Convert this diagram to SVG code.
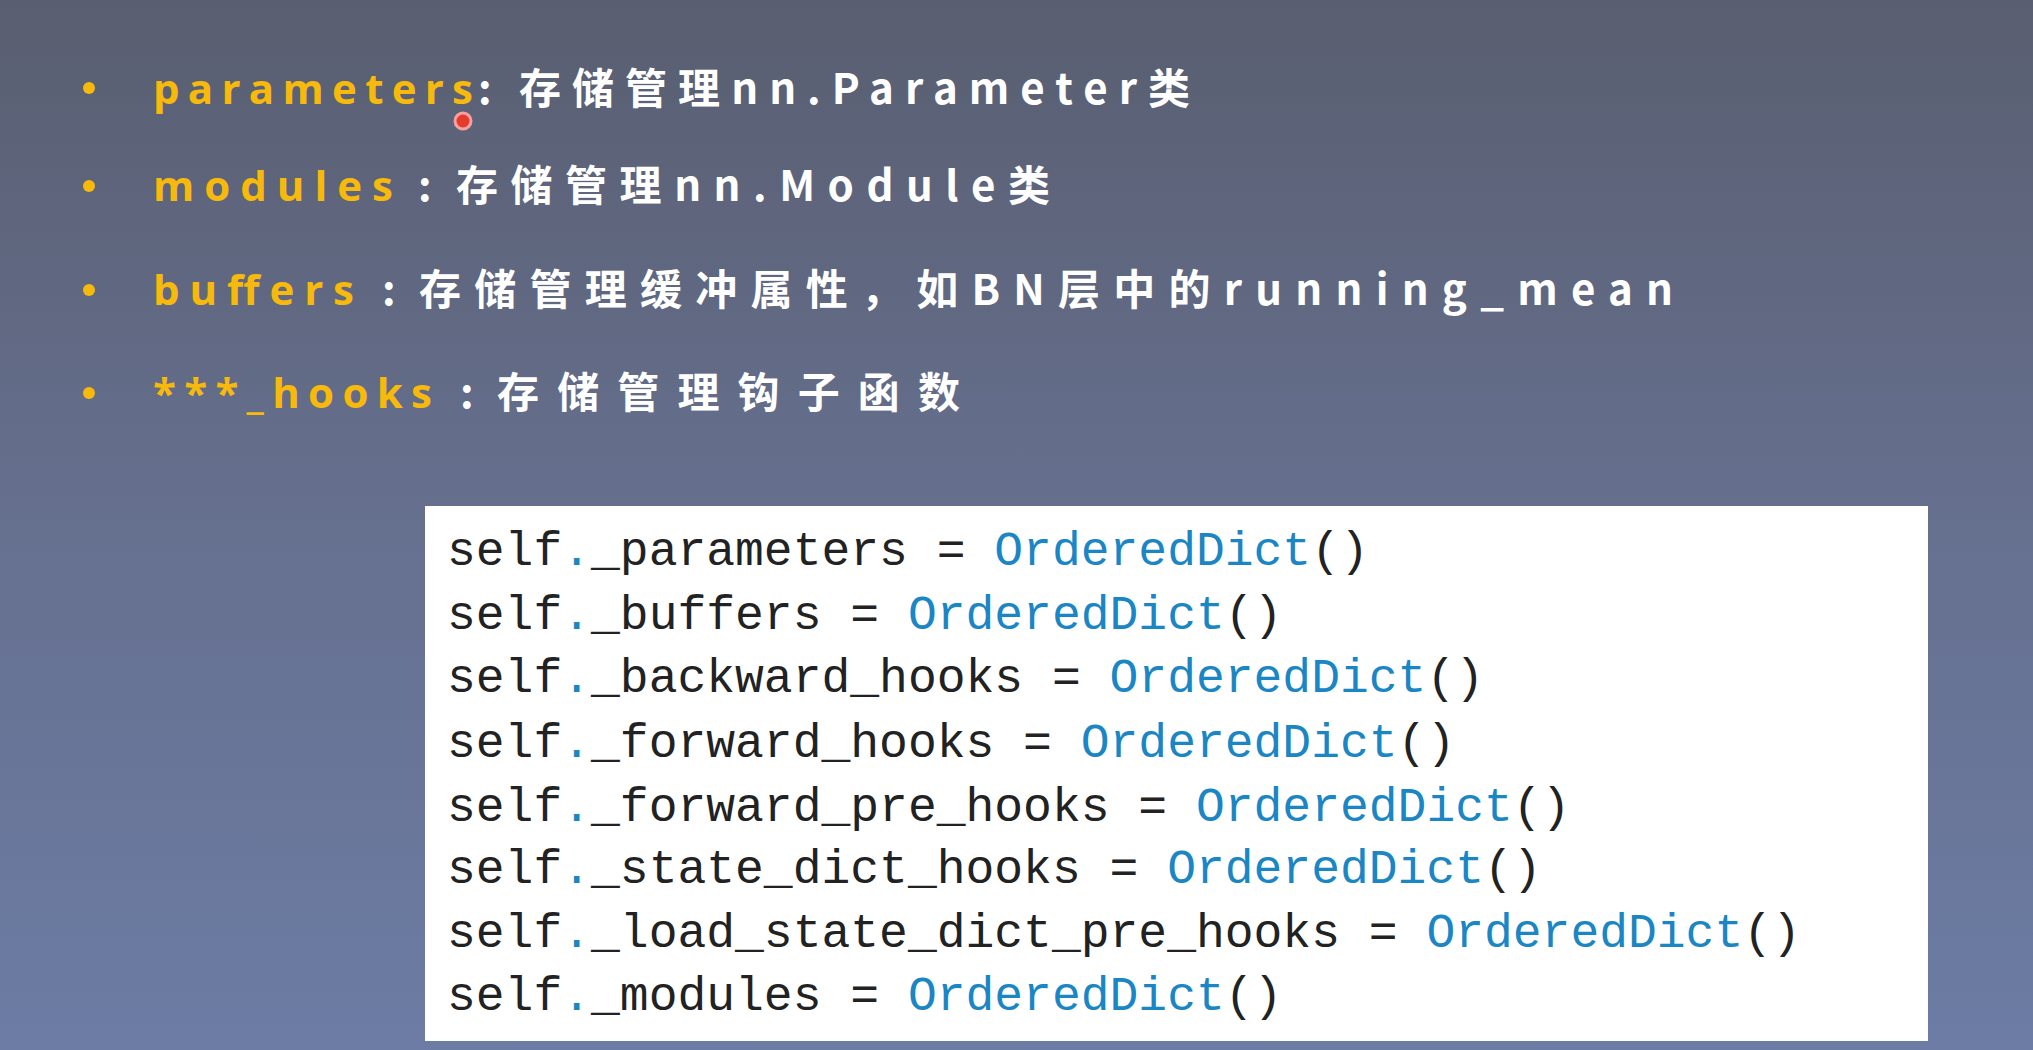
<svg xmlns="http://www.w3.org/2000/svg" width="2033" height="1050" viewBox="0 0 2033 1050">
<defs>
<linearGradient id="bg" x1="0" y1="0" x2="0" y2="1">
<stop offset="0" stop-color="#595e70"/>
<stop offset="0.5" stop-color="#66708f"/>
<stop offset="1" stop-color="#6c7ca4"/>
</linearGradient>
<style>
.k{font-family:"Open Sans","Liberation Sans","Noto Sans CJK SC",sans-serif;font-weight:bold;font-size:42px;fill:#f6b90c}
.w{font-family:"Noto Sans CJK SC","Open Sans",sans-serif;font-weight:bold;font-size:42px;fill:#ffffff}
.b{fill:#f6b90c}
.c{font-family:"Liberation Mono","DejaVu Sans Mono",monospace;font-size:48px;fill:#222}
.o{fill:#1a86c4}
</style>
</defs>
<rect width="2033" height="1050" fill="url(#bg)"/>
<g id="bullets">
<circle class="b" cx="89" cy="88" r="6"/>
<circle class="b" cx="89" cy="186" r="6"/>
<circle class="b" cx="89" cy="290" r="6"/>
<circle class="b" cx="89" cy="393" r="6"/>
<text class="k" x="153" y="104" textLength="320" lengthAdjust="spacing">parameters</text>
<text class="w" x="478" y="104">:</text>
<text class="w" x="519" y="104" textLength="671" lengthAdjust="spacing">存储管理nn.Parameter类</text>
<text class="k" x="153" y="201" textLength="240" lengthAdjust="spacing">modules</text>
<text class="w" x="418" y="201">:</text>
<text class="w" x="456" y="201" textLength="594" lengthAdjust="spacing">存储管理nn.Module类</text>
<text class="k" x="153" y="305" textLength="201" lengthAdjust="spacing">buffers</text>
<text class="w" x="382" y="305">:</text>
<text class="w" x="419" y="305" textLength="1254" lengthAdjust="spacing">存储管理缓冲属性，如BN层中的running_mean</text>
<text class="k" x="153" y="408" textLength="279" lengthAdjust="spacing">***_hooks</text>
<text class="w" x="460" y="408">:</text>
<text class="w" x="497" y="408" textLength="463" lengthAdjust="spacing">存储管理钩子函数</text>
<circle cx="463" cy="121" r="8" fill="#e53b2c" stroke="#f7a0a0" stroke-width="3"/>
</g>
<g id="code">
<rect x="425" y="506" width="1503" height="535" fill="#ffffff"/>
<text class="c" x="447" y="565">self<tspan class="o">.</tspan>_parameters = <tspan class="o">OrderedDict</tspan>()</text>
<text class="c" x="447" y="629">self<tspan class="o">.</tspan>_buffers = <tspan class="o">OrderedDict</tspan>()</text>
<text class="c" x="447" y="692">self<tspan class="o">.</tspan>_backward_hooks = <tspan class="o">OrderedDict</tspan>()</text>
<text class="c" x="447" y="757">self<tspan class="o">.</tspan>_forward_hooks = <tspan class="o">OrderedDict</tspan>()</text>
<text class="c" x="447" y="821">self<tspan class="o">.</tspan>_forward_pre_hooks = <tspan class="o">OrderedDict</tspan>()</text>
<text class="c" x="447" y="883">self<tspan class="o">.</tspan>_state_dict_hooks = <tspan class="o">OrderedDict</tspan>()</text>
<text class="c" x="447" y="947">self<tspan class="o">.</tspan>_load_state_dict_pre_hooks = <tspan class="o">OrderedDict</tspan>()</text>
<text class="c" x="447" y="1010">self<tspan class="o">.</tspan>_modules = <tspan class="o">OrderedDict</tspan>()</text>
</g>
</svg>
